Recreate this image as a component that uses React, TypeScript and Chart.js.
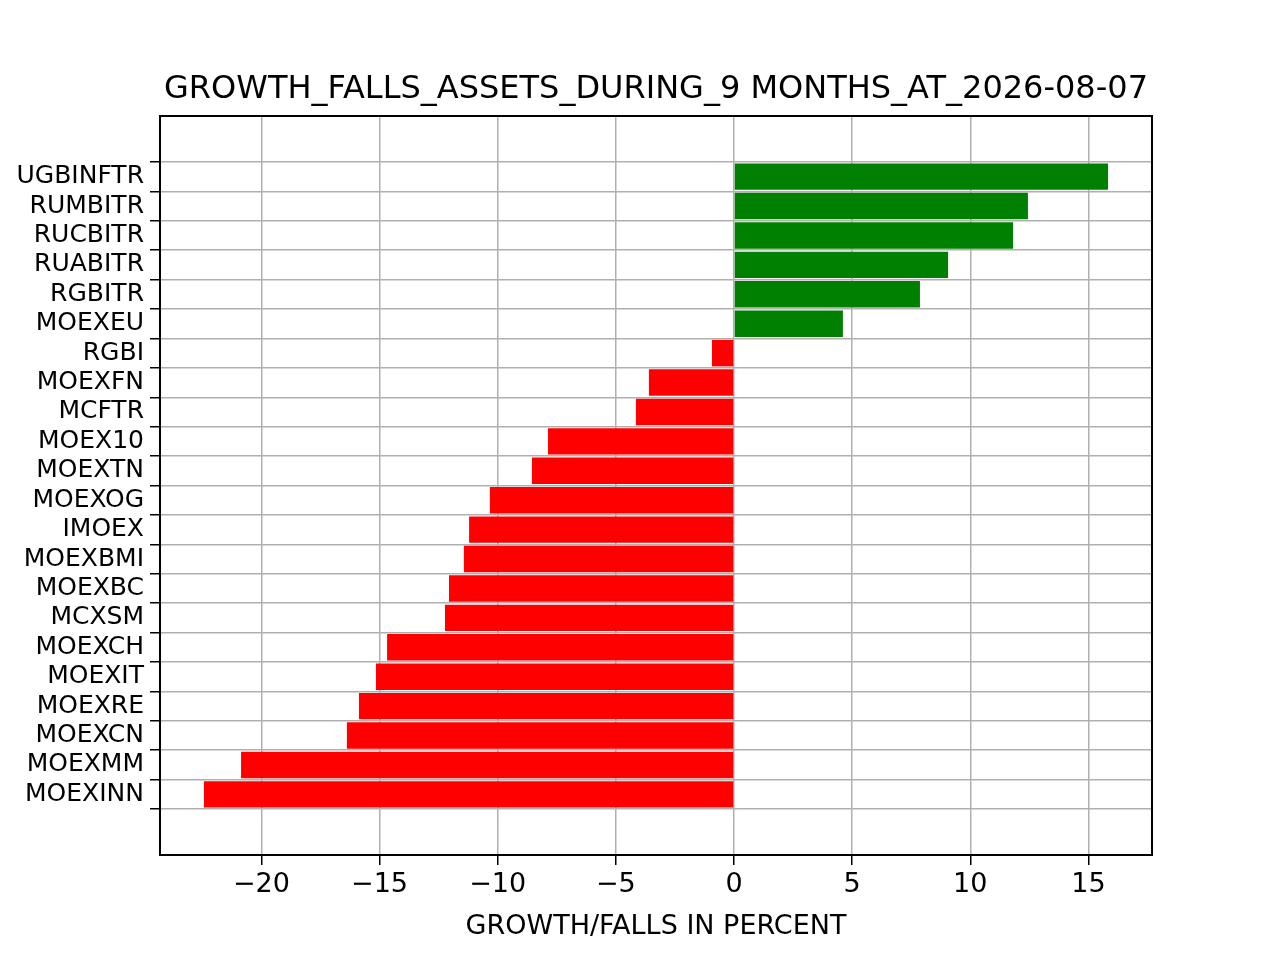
import React, { useEffect, useRef } from "react";
import { Chart, registerables } from "chart.js";
Chart.register(...registerables);

const labels = ["UGBINFTR","RUMBITR","RUCBITR","RUABITR","RGBITR","MOEXEU","RGBI","MOEXFN","MCFTR","MOEX10","MOEXTN","MOEXOG","IMOEX","MOEXBMI","MOEXBC","MCXSM","MOEXCH","MOEXIT","MOEXRE","MOEXCN","MOEXMM","MOEXINN"];
const values = [15.83,12.44,11.81,9.06,7.87,4.61,-0.93,-3.6,-4.15,-7.87,-8.55,-10.33,-11.21,-11.43,-12.06,-12.23,-14.68,-15.15,-15.87,-16.38,-20.86,-22.43];
const xTicks = [-20,-15,-10,-5,0,5,10,15];
const title = "GROWTH_FALLS_ASSETS_DURING_9 MONTHS_AT_2026-08-07";
const xTitle = "GROWTH/FALLS IN PERCENT";

export default function App() {
  const ref = useRef<HTMLCanvasElement>(null);
  useEffect(() => {
    document.body.style.margin = "0";
    const font = "DejaVu Sans";
    const deco = {
      id: "deco",
      afterDraw(c: any) {
        const { ctx, chartArea: a } = c;
        ctx.save();
        ctx.strokeStyle = "#000";
        ctx.lineWidth = 2;
        ctx.strokeRect(a.left, a.top, a.right - a.left, a.bottom - a.top);
        ctx.fillStyle = "#000";
        ctx.textAlign = "center";
        ctx.textBaseline = "alphabetic";
        ctx.font = `32px '${font}'`;
        ctx.fillText(title, (a.left + a.right) / 2, 98);
        ctx.font = `27px '${font}'`;
        ctx.fillText(xTitle, (a.left + a.right) / 2, 934);
        ctx.restore();
      },
    };
    const chart = new Chart(ref.current!, {
      type: "bar",
      data: {
        datasets: [{
          data: values.map((v, i) => ({ x: v, y: i })),
          backgroundColor: values.map(v => (v >= 0 ? "#008000" : "#ff0000")),
          barPercentage: 0.9,
          categoryPercentage: 1,
        }],
      },
      options: {
        indexAxis: "y",
        animation: false,
        responsive: false,
        layout: { padding: { top: 116, right: 128, left: 0, bottom: 0 } },
        plugins: { legend: { display: false }, title: { display: false }, tooltip: { enabled: false } },
        scales: {
          x: {
            type: "linear",
            min: -24.29,
            max: 17.69,
            z: 1,
            afterBuildTicks: (s: any) => { s.ticks = xTicks.map(v => ({ value: v })); },
            afterFit: (s: any) => { s.height = 105; },
            grid: { color: "#b0b0b0", lineWidth: 1.5, tickColor: "#000", tickLength: 10, drawOnChartArea: true },
            border: { display: false },
            ticks: { color: "#000", font: { family: font, size: 27 }, padding: 4, callback: (v: any) => String(v).replace("-", "\u2212") },
          },
          y: {
            type: "linear",
            min: -1.49,
            max: 22.49,
            reverse: true,
            z: 1,
            afterBuildTicks: (s: any) => { s.ticks = labels.map((_, i) => ({ value: i })); },
            afterFit: (s: any) => { s.width = 160; },
            grid: { color: "#b0b0b0", lineWidth: 1.5, tickColor: "#000", tickLength: 10 },
            border: { display: false },
            ticks: { color: "#000", font: { family: font, size: 25 }, padding: 6, autoSkip: false, callback: (v: any) => labels[v] ?? "" },
          },
        },
      },
      plugins: [deco],
    } as any);
    return () => chart.destroy();
  }, []);
  return <canvas ref={ref} width={1280} height={960} style={{ display: "block", background: "#fff" }} />;
}
